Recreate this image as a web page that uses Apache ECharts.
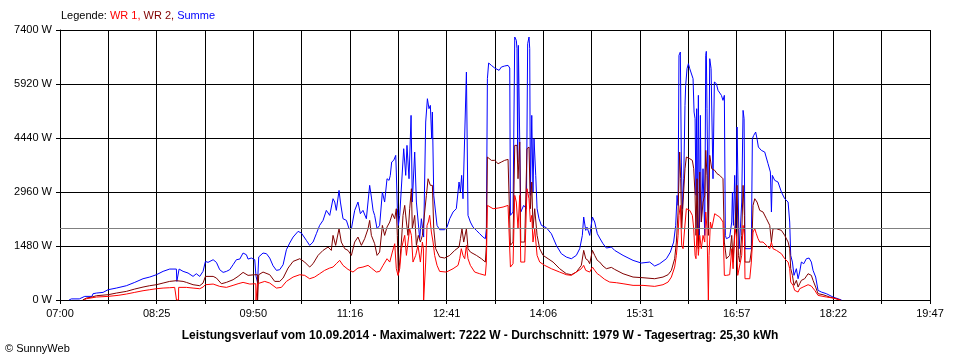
<!DOCTYPE html>
<html><head><meta charset="utf-8">
<script src="https://cdn.jsdelivr.net/npm/echarts@6/dist/echarts.min.js"></script>
<style>html,body{margin:0;padding:0;background:#fff}#c{width:960px;height:360px}</style>
</head><body><div id="c"></div>
<script>
// time axis: minutes after 07:00, axis spans 07:00 .. 19:47
const tickLabels = ['07:00','08:25','09:50','11:16','12:41','14:06','15:31','16:57','18:22','19:47'];
const spanMinutes = 767;
const yTicks = [0, 1480, 2960, 4440, 5920, 7400];
const averageW = 1979;

// Summe (blue), [minute after 07:00, W]
const summe = [[8,0],[10,30],[17,30],[21.8,99],[28.2,99],[29.1,172],[32.1,190],[38,209],[42.4,282],[49.7,327],[58.5,391],[65.9,483],[73.2,583],[79.1,629],[85,693],[90.9,785],[96.7,848],[102.6,848],[103,510],[104.5,510],[105,848],[108.5,785],[112.9,739],[117.3,647],[120.2,720],[123.2,647],[126.1,785],[128.2,1058],[130.5,1031],[135,1104],[137.9,1031],[140.8,830],[143.8,757],[146.7,784],[149.6,830],[152.6,967],[155.5,1104],[158.5,1122],[161.4,1287],[164.3,1241],[165.8,1122],[168.7,1150],[171.7,1104],[172.8,650],[174.2,480],[175.2,1180],[179,1287],[182,1269],[184.9,1150],[187.8,940],[190.8,812],[193.7,830],[196.7,967],[199.6,1378],[202.5,1561],[205.5,1725],[209.9,1881],[212.8,1835],[214.2,1817],[217.2,1634],[220.1,1497],[223.1,1588],[226,1817],[228.9,2045],[231.9,2182],[234.8,2456],[237.8,2319],[240.7,2776],[242.2,2685],[243.6,2456],[246,3004],[247.2,2685],[249.5,2228],[252.5,2182],[254.8,1954],[256.9,1954],[259.8,2456],[262.7,2685],[264.8,2365],[267.1,2456],[270.1,2228],[273,3142],[274.5,2822],[276,2456],[277.4,2319],[279.5,1954],[281.8,2045],[284.2,2959],[286.2,2685],[288.3,3324],[290.1,3279],[291.2,3416],[292.4,3781],[294.2,3827],[296,3964],[296.5,3507],[297.4,2502],[298.3,2045],[299.5,2319],[301,2319],[303,4147],[304.8,3416],[305.9,4238],[307.7,3324],[309.5,5060],[310.6,2685],[312.7,4055],[314.2,2685],[315.9,2731],[317.1,1680],[318.6,2228],[320.6,1725],[322.4,4878],[323.9,5517],[325.3,5243],[326.5,5334],[327.7,4421],[328.3,5152],[329.5,2867],[331.2,2822],[332.4,2045],[334.7,1926],[339.1,1926],[341.2,1999],[343.6,2228],[346.5,2411],[349.4,2502],[351.8,3233],[353,2959],[354.1,3416],[355.3,2776],[356.8,2822],[358.3,6248],[359.1,6203],[359.7,2319],[361.8,2137],[364.1,1999],[367.1,1908],[370,1817],[372.9,1725],[375,1680],[375.9,1954],[376.8,6066],[377.9,6495],[380.3,6431],[383.2,6358],[384.7,6321],[387.1,6294],[389.1,6385],[392,6413],[395,6431],[396.5,6358],[397.1,2319],[399.4,2411],[400.9,7208],[402.3,7116],[402.9,6888],[403.5,3781],[404.1,6979],[405.3,7025],[406.2,2411],[408.8,2593],[411.2,2502],[412.3,7025],[413.5,7208],[414.1,6888],[414.7,2867],[415.9,5060],[417,2959],[417.9,4421],[419.4,3416],[420.6,2502],[422.3,2228],[424.4,2045],[428.8,1981],[433.2,1817],[437.6,1497],[442,1269],[446.4,1177],[450.8,1131],[455.2,1223],[458.2,1406],[460.5,1771],[461.7,2274],[463.5,1908],[464.6,1999],[467,1771],[469.4,2274],[471.4,2137],[473.7,1817],[475.8,1698],[478.7,1543],[481.7,1424],[486.1,1451],[489,1360],[496.4,1223],[505.2,1086],[512.5,1013],[519.9,1040],[524.3,931],[528.7,995],[534.6,1131],[538.1,1314],[541,1588],[542.8,2045],[544,2867],[544.9,2593],[545.7,6705],[546.9,6796],[547.8,3781],[548.7,2502],[549.9,3324],[551,5334],[551.6,5883],[552.8,6340],[554,6477],[555.2,6340],[556.9,6385],[558.1,6066],[559,5152],[559.9,4969],[560.7,2867],[561.3,5243],[561.9,1954],[562.8,5609],[563.7,1771],[564.6,5060],[565.4,2137],[566.9,3598],[568.4,1771],[569.3,6705],[569.8,6815],[570.4,5243],[571.6,1954],[572.8,6614],[574,6340],[574.8,4878],[575.7,3324],[576.9,5974],[578.7,5928],[580.1,5746],[581.6,5746],[583.1,5609],[584.5,5472],[585.7,5609],[586.6,1771],[587.5,1680],[590.4,1725],[592.2,2137],[592.8,2959],[593.7,2045],[594.8,3416],[595.7,1954],[596.9,4741],[598.1,4695],[598.7,1406],[599.8,1954],[601,2685],[602.2,5197],[603.1,4969],[603.9,1406],[609.5,1406],[610.4,4421],[611.6,4512],[613.3,4603],[614.5,4421],[615.7,4192],[616.9,4238],[618.3,4101],[621.3,4055],[624.2,3736],[626.3,3507],[627.2,2411],[628,3416],[630.1,3279],[633,3233],[636,2959],[638.9,2776],[641.9,2685],[643.3,2137],[644.2,1223],[645.7,1040],[647.1,675],[649.2,858],[650.7,583],[652.1,766],[653.6,1040],[655.7,995],[658,1131],[660.4,1150],[662.4,1040],[663.9,812],[666.2,629],[668.3,264],[671.2,218],[675.7,172],[681.5,81],[687.4,17],[689,0]];

// WR 2 (dark red)
const wr2 = [[20,0],[23.3,54],[28.2,81],[32.1,117],[42.4,145],[49.7,190],[58.5,236],[65.9,300],[73.2,355],[79.1,392],[85,419],[90.9,465],[96.7,510],[102.6,529],[108.5,510],[111.4,483],[117.3,419],[123.2,392],[126.1,465],[128.2,647],[135,647],[137.9,602],[142.3,446],[146.7,483],[152.6,556],[157,647],[161.4,757],[165.8,675],[171.7,693],[174,693],[174.2,0],[175,0],[175.2,693],[179,766],[184.9,693],[189.3,510],[193.7,510],[196.7,602],[201.1,876],[205.5,1058],[211.4,1131],[215.7,1040],[220.1,903],[223.1,995],[227.5,1223],[231.9,1360],[236.3,1451],[239.2,1360],[240.7,1771],[243,1497],[246,1954],[248,1588],[251,1406],[253.9,1360],[256.9,1223],[259.8,1588],[262.7,1725],[265.7,1497],[268.6,1680],[271.6,1954],[273,2182],[274.5,1771],[277.4,1543],[279.5,1223],[281.8,1314],[284.2,2045],[286.2,1771],[288.3,1999],[290.7,2137],[293,2365],[295.1,2228],[296.5,2502],[297.4,1771],[298.3,675],[299.5,1040],[301,1588],[302.4,2319],[303.9,2593],[305.4,2137],[306.8,1771],[308.3,2502],[309.8,3050],[310.6,1954],[312.7,2319],[314.2,1497],[315.9,1771],[317.7,1588],[319.5,1771],[321.5,2411],[323,2867],[324.5,3324],[326.5,3142],[328.3,3142],[329.5,1954],[331.2,1406],[334.7,1177],[339.1,1150],[343.6,1223],[348,1360],[351.8,1451],[353,1680],[354.4,1954],[355.9,1588],[358.3,1954],[359.7,1406],[361.8,1314],[367.1,1223],[371.5,1131],[375,1040],[375.9,1497],[376.8,3918],[377.9,3964],[380.3,3827],[383.2,3827],[386.2,3736],[389.1,3781],[392,3827],[395,3854],[396.5,3827],[397.1,1497],[399.4,1588],[400.9,4238],[402.9,4238],[403.8,3324],[405.3,4329],[406.2,1588],[409.7,1588],[411.7,4147],[413.5,4192],[414.7,2502],[415.9,3233],[417,1954],[418.5,2502],[420.6,1771],[422.9,1406],[425.9,1223],[430.3,1131],[434.7,1040],[440.5,858],[446.4,720],[450.8,693],[455.2,766],[459.6,949],[461.7,1360],[463.5,1131],[465.5,1086],[467,995],[469.4,1360],[471.4,1223],[473.7,1086],[475.8,1040],[478.7,931],[481.7,858],[486.1,894],[489,839],[496.4,720],[505.2,629],[514,611],[524.3,583],[531.6,629],[536.1,693],[539,812],[541.9,1131],[543.4,1588],[544.9,2411],[546.3,4055],[547.2,3324],[548.1,1954],[549.3,2685],[551,3598],[552.2,3918],[555.2,3873],[557.5,3827],[558.7,3598],[559.9,2867],[560.7,1771],[561.6,3324],[562.8,1406],[564,3507],[565.4,2137],[566.9,2685],[568.4,2867],[569.3,4101],[570.4,3416],[571.6,1771],[572.8,3964],[574.6,3598],[577.2,3553],[579.3,3461],[581.6,3416],[584.5,3324],[585.7,1588],[587.5,1131],[590.4,1223],[592.2,1771],[593.4,1040],[595.1,2045],[596.9,3142],[598.1,1223],[599.2,1040],[601,1771],[602.2,3142],[603.4,2319],[603.9,1040],[608.1,1040],[609.8,1406],[611,2593],[612.5,2776],[614.5,2685],[616.9,2456],[619.8,2411],[622.8,2228],[625.7,2045],[627.2,1588],[628.6,1954],[631.6,1954],[636,1908],[638.9,1771],[641.9,1588],[643.3,1406],[644.2,858],[645.7,675],[647.1,401],[649.2,538],[650.7,355],[652.1,446],[653.6,538],[656.5,583],[659.5,720],[662.4,675],[663.9,538],[666.2,355],[668.3,172],[672.7,145],[678.6,81],[684.5,35],[688,0]];

// WR 1 (red)
const wr1 = [[21,0],[23.3,35],[32.1,81],[42.4,99],[51.2,127],[58.5,163],[65.9,209],[73.2,254],[79.1,282],[85,309],[90.9,327],[96.7,337],[101.1,346],[102.6,346],[102.7,0],[104.5,0],[104.6,346],[111.4,346],[117.3,327],[123.2,309],[126.1,355],[128.2,419],[135,437],[140.8,373],[146.7,346],[152.6,401],[157,446],[161.4,483],[167.3,437],[172.6,446],[172.8,0],[174,0],[174.2,446],[180.5,510],[184.9,465],[190.8,327],[195.2,346],[199.6,510],[205.5,629],[211.4,693],[215.7,675],[220.1,583],[224.5,629],[228.9,720],[233.3,812],[237.8,876],[240.7,903],[243.6,995],[246.6,1086],[249.5,949],[253.9,839],[258.3,766],[262.7,876],[267.1,903],[271.6,949],[274.5,876],[278.9,766],[281.8,784],[284.8,949],[288.3,1131],[290.7,1040],[293,1314],[295.1,1543],[296.5,857],[298,675],[299.5,857],[301,1406],[302.4,1588],[303.9,1771],[305.4,1223],[306.8,1588],[308.3,1954],[309.8,1771],[311.2,1040],[313.6,1223],[315.6,1497],[317.7,1040],[319.5,1588],[320.4,1400],[320.6,0],[321.8,0],[322.4,1040],[323.6,2045],[324.7,2137],[325.9,2319],[327.4,1863],[328.9,1588],[330.3,1223],[332.4,949],[334.7,784],[340.6,766],[346.5,857],[350.9,949],[352.4,1131],[353.8,1406],[355.3,1223],[356.8,1131],[358.3,1497],[359.7,1131],[361.8,949],[365.6,766],[370,720],[375,675],[375.9,1040],[376.8,2593],[377.9,2575],[381.8,2502],[386.2,2520],[390.6,2548],[395,2593],[396.5,2548],[397.1,903],[399.4,995],[400.9,2867],[402.3,2685],[403.8,1954],[405.3,2867],[406.2,1040],[409.7,1040],[411.7,3050],[413.5,2776],[414.7,2137],[415.9,2319],[417,1588],[418.5,1954],[420.6,1223],[422.9,1040],[427.3,949],[433.2,857],[440.5,766],[446.4,693],[450.8,675],[455.2,766],[459.6,857],[461.7,949],[463.5,812],[467,766],[469.4,903],[471.4,812],[473.7,720],[475.8,675],[480.2,565],[484.6,492],[490.5,474],[496.4,446],[505.2,401],[514,401],[524.3,373],[531.6,419],[536.1,492],[539,629],[541.9,903],[543.4,1223],[544.9,1771],[545.7,2319],[546.9,2593],[548.1,1497],[549.3,1406],[550.7,1954],[552.2,2502],[553.7,2548],[555.2,2456],[557.5,2319],[558.7,1954],[559.9,1223],[560.7,1131],[561.6,1954],[562.8,1223],[564,1771],[565.4,1406],[566.9,1771],[568.4,1588],[569.3,2411],[570.4,1954],[571.5,1900],[571.6,0],[572.1,0],[572.2,1223],[573.4,2137],[574.6,1954],[577.2,2365],[579.3,2319],[581.6,2274],[584.5,2137],[585.7,675],[587.5,675],[590.4,693],[592.2,1406],[593.4,857],[595.1,1954],[596.3,1771],[597.5,675],[599.2,629],[601,1223],[602.2,2045],[603.4,1771],[603.9,583],[608.1,583],[609.5,1040],[611,1863],[612.5,1954],[613.9,1817],[615.4,1680],[616.9,1588],[619.8,1588],[622.8,1497],[625.7,1406],[627.2,1588],[628.6,1406],[631.6,1360],[636,1269],[638.9,1131],[641.9,1040],[643.3,857],[644.2,492],[646.3,401],[647.7,264],[650.7,218],[652.1,309],[655.1,355],[659.5,419],[662.4,382],[665.4,264],[668.3,126],[675.7,81],[681.5,53],[685.9,17],[688,0]];

const FONT = '"Liberation Sans", Arial, sans-serif';
const xStep = spanMinutes / (2 * (tickLabels.length - 1));
const yStep = yTicks[1] - yTicks[0];

const chart = echarts.init(document.getElementById('c'), null, {renderer: 'canvas'});
chart.setOption({
  animation: false,
  backgroundColor: '#fff',
  grid: {left: 60, right: 30, top: 30, bottom: 60},
  xAxis: {
    type: 'value', min: 0, max: spanMinutes, interval: xStep,
    axisLine: {show: true, onZero: false, lineStyle: {color: '#000', width: 1}},
    axisTick: {show: true, length: 4, lineStyle: {color: '#000', width: 1}},
    axisLabel: {
      show: true, margin: 8, color: '#000', fontSize: 11, fontFamily: FONT,
      showMinLabel: true, showMaxLabel: true, hideOverlap: false,
      formatter: function (v) {
        const k = Math.round(v / xStep);
        return k % 2 === 0 ? (tickLabels[k / 2] || '') : '';
      }
    },
    splitLine: {show: true, lineStyle: {color: '#000', width: 1}}
  },
  yAxis: {
    type: 'value', min: yTicks[0], max: yTicks[yTicks.length - 1], interval: yStep,
    axisLine: {show: true, lineStyle: {color: '#000', width: 1}},
    axisTick: {show: true, length: 4, lineStyle: {color: '#000', width: 1}},
    axisLabel: {show: true, margin: 8, color: '#000', fontSize: 11, fontFamily: FONT,
      formatter: function (v) { return v + ' W'; }},
    splitLine: {show: true, lineStyle: {color: '#000', width: 1}}
  },
  series: [
    {name: 'Summe', type: 'line', data: summe, showSymbol: false, symbol: 'none',
     lineStyle: {color: '#0000ff', width: 1}, itemStyle: {color: '#0000ff'}, z: 2,
     markLine: {silent: true, symbol: 'none', label: {show: false},
       lineStyle: {color: '#808080', width: 1, type: 'solid'},
       data: [{yAxis: averageW}]}},
    {name: 'WR 2', type: 'line', data: wr2, showSymbol: false, symbol: 'none',
     lineStyle: {color: '#800000', width: 1}, itemStyle: {color: '#800000'}, z: 3},
    {name: 'WR 1', type: 'line', data: wr1, showSymbol: false, symbol: 'none',
     lineStyle: {color: '#ff0000', width: 1}, itemStyle: {color: '#ff0000'}, z: 4}
  ],
  graphic: [
    {type: 'text', left: 61, top: 10, style: {
      text: '{k|Legende: }{a|WR 1, }{b|WR 2, }{c|Summe}',
      rich: {
        k: {fill: '#000', fontSize: 11, fontFamily: FONT},
        a: {fill: '#ff0000', fontSize: 11, fontFamily: FONT},
        b: {fill: '#800000', fontSize: 11, fontFamily: FONT},
        c: {fill: '#0000ff', fontSize: 11, fontFamily: FONT}
      }}},
    {type: 'text', left: 'center', top: 330, style: {
      text: 'Leistungsverlauf vom 10.09.2014 - Maximalwert: 7222 W - Durchschnitt: 1979 W - Tagesertrag: 25,30 kWh',
      fill: '#000', font: 'bold 12px ' + FONT}},
    {type: 'text', left: 5, top: 343, style: {
      text: '\u00A9 SunnyWeb', fill: '#000', font: '11px ' + FONT}}
  ]
});
</script>
</body></html>
